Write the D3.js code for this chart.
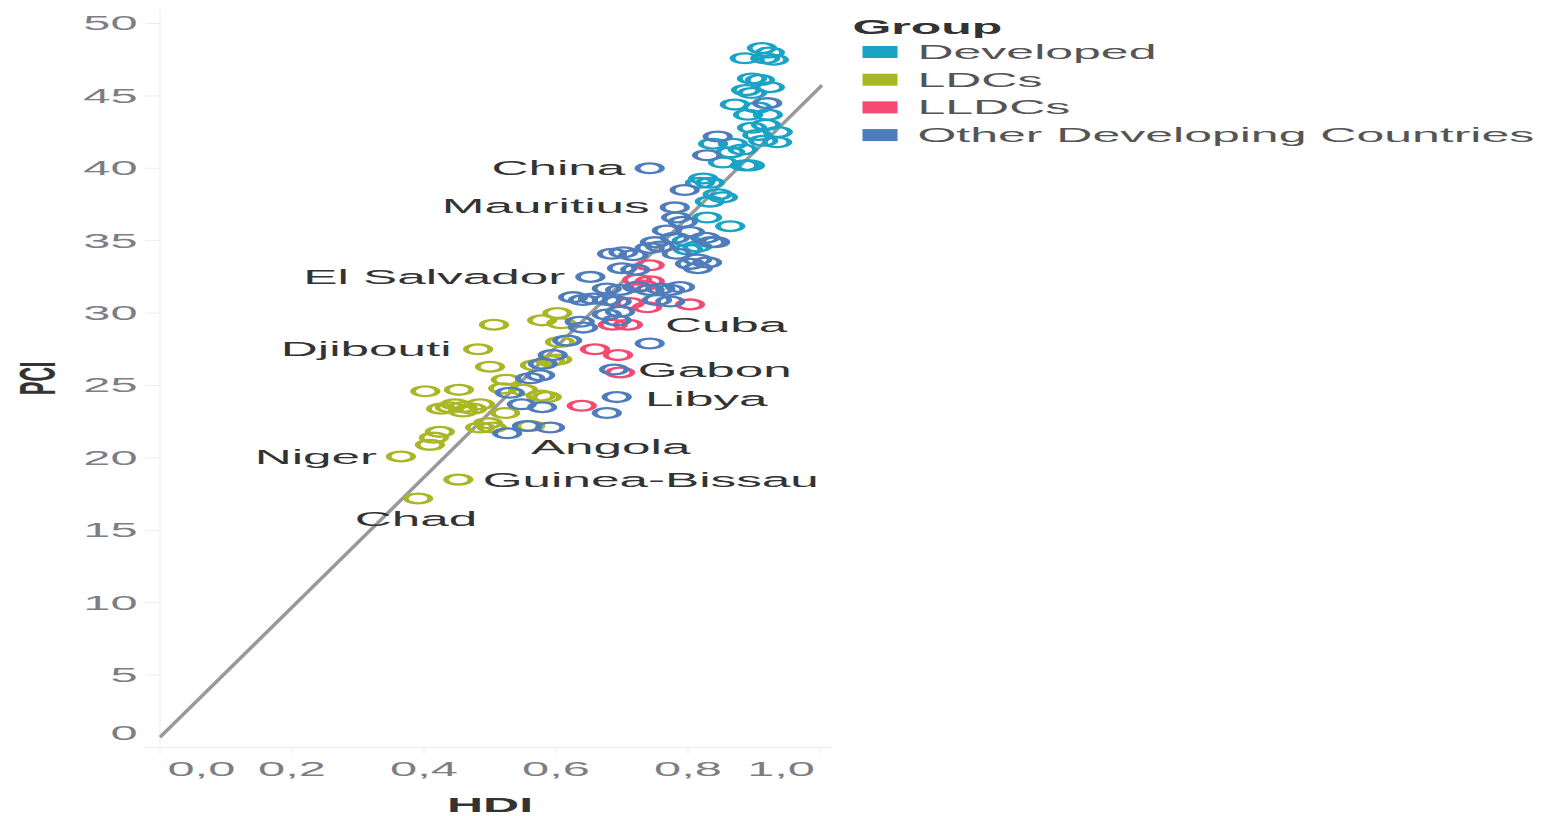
<!DOCTYPE html>
<html>
<head>
<meta charset="utf-8">
<script src="https://cdn.jsdelivr.net/npm/d3@7"></script>
<style>
  html, body { margin: 0; padding: 0; background: #fff; }
  svg { display: block; }
  text { font-family: "Liberation Sans", Arial, sans-serif; }
</style>
</head>
<body>
<div id="chart"></div>
<script>
// groups + colours (Tableau hue circle)
const groups = ["Developed", "LDCs", "LLDCs", "Other Developing Countries"];
const groupColors = ["#1ba3c6", "#a9b726", "#f64971", "#4f7cba"];

// [HDI, PCI] per group
const developed = [
  [0.912, 48.3], [0.924, 48.0], [0.930, 47.5], [0.886, 47.6], [0.917, 47.6],
  [0.897, 46.2], [0.909, 46.1], [0.924, 45.6], [0.897, 45.2], [0.888, 45.4],
  [0.871, 44.4], [0.905, 44.2], [0.921, 43.7], [0.891, 43.7], [0.918, 43.0],
  [0.897, 42.8], [0.936, 42.5], [0.905, 42.3], [0.914, 41.9], [0.935, 41.8],
  [0.868, 41.7], [0.838, 41.7], [0.883, 41.3], [0.864, 41.1], [0.853, 40.4],
  [0.894, 40.2], [0.886, 40.2], [0.823, 39.3], [0.833, 39.0], [0.818, 39.0],
  [0.845, 38.2], [0.853, 38.0], [0.833, 37.7], [0.864, 36.0], [0.829, 36.6],
  [0.798, 35.0], [0.814, 34.6], [0.800, 34.4]
];
const ldcs = [
  [0.506, 29.2], [0.579, 29.5], [0.602, 30.0], [0.608, 29.3], [0.482, 27.5],
  [0.500, 26.3], [0.568, 26.4], [0.591, 26.7], [0.602, 26.8], [0.524, 25.4],
  [0.520, 24.8], [0.550, 24.7], [0.577, 24.3], [0.586, 24.2], [0.402, 24.6],
  [0.453, 24.7], [0.439, 23.5], [0.458, 23.5], [0.473, 23.4], [0.426, 23.4],
  [0.485, 23.7], [0.523, 23.1], [0.485, 22.1], [0.503, 22.1], [0.561, 22.2],
  [0.424, 21.8], [0.415, 21.4], [0.409, 20.9], [0.365, 20.1], [0.452, 18.5],
  [0.391, 17.2], [0.459, 23.2], [0.606, 28.0], [0.497, 22.4], [0.447, 23.7]
];
const lldcs = [
  [0.742, 33.3], [0.723, 32.3], [0.742, 32.2], [0.732, 31.9], [0.712, 30.7],
  [0.738, 30.4], [0.803, 30.6], [0.686, 29.2], [0.709, 29.2], [0.659, 27.5],
  [0.694, 27.1], [0.697, 25.9], [0.639, 23.6]
];
const others = [
  [0.742, 40.0], [0.845, 42.2], [0.920, 44.5], [0.829, 40.9], [0.795, 38.5],
  [0.780, 37.3], [0.782, 36.6], [0.792, 36.3], [0.768, 35.7], [0.803, 35.6],
  [0.780, 35.2], [0.750, 34.9], [0.826, 35.2], [0.836, 34.9], [0.685, 34.1],
  [0.702, 34.2], [0.717, 34.0], [0.742, 34.5], [0.758, 34.6], [0.783, 34.1],
  [0.814, 33.7], [0.829, 33.5], [0.841, 34.9], [0.700, 33.1], [0.720, 33.0],
  [0.803, 33.4], [0.815, 33.1], [0.652, 32.5], [0.677, 31.7], [0.697, 31.6],
  [0.723, 31.8], [0.742, 31.6], [0.758, 31.7], [0.773, 31.6], [0.788, 31.8],
  [0.626, 31.1], [0.641, 30.9], [0.656, 31.0], [0.677, 30.9], [0.692, 30.8],
  [0.753, 30.9], [0.773, 30.8], [0.697, 30.1], [0.677, 29.9], [0.692, 29.5],
  [0.636, 29.4], [0.641, 29.0], [0.742, 27.9], [0.617, 28.1], [0.595, 27.1],
  [0.580, 26.5], [0.561, 25.5], [0.688, 26.1], [0.692, 24.2], [0.677, 23.1],
  [0.576, 25.7], [0.530, 24.5], [0.548, 23.7], [0.579, 23.5], [0.556, 22.2],
  [0.526, 21.7], [0.591, 22.1]
];
const seriesData = [developed, ldcs, lldcs, others];

// country labels: [name, HDI, PCI, anchor] (text position)
const labels = [
  ["China", 0.705, 40.0, "end"],
  ["Mauritius", 0.742, 37.4, "end"],
  ["El Salvador", 0.614, 32.5, "end"],
  ["Djibouti", 0.442, 27.5, "end"],
  ["Niger", 0.329, 20.1, "end"],
  ["Guinea-Bissau", 0.489, 18.5, "start"],
  ["Chad", 0.388, 15.8, "middle"],
  ["Angola", 0.562, 20.75, "start"],
  ["Cuba", 0.765, 29.2, "start"],
  ["Gabon", 0.724, 26.1, "start"],
  ["Libya", 0.735, 24.1, "start"]
];

// trend line PCI = a + b*HDI
const trendIntercept = 0.7;
const trendSlope = 44.9;
const trendRange = [0, 1.003];

const xTicks = [0, 0.2, 0.4, 0.6, 0.8, 1.0];
const yTicks = [0, 5, 10, 15, 20, 25, 30, 35, 40, 45, 50];

// the picture is stretched horizontally, draw in narrow units and let the viewBox stretch it
const W = 1544, H = 816, stretch = 2.5;
const VW = W / stretch;

const svg = d3.select("#chart").append("svg")
    .attr("width", W)
    .attr("height", H)
    .attr("viewBox", `0 0 ${VW} ${H}`)
    .attr("preserveAspectRatio", "none");

const x = d3.scaleLinear().domain([0, 1]).range([64, 328]);
const y = d3.scaleLinear().domain([0, 50]).range([747.5, 23.5]);
const xEnd = 333, yTop = y(51);

const locale = d3.formatLocale({decimal: ",", thousands: ".", grouping: [3], currency: ["", ""]});
const fmt = locale.format(".1f");

// axes lines
svg.append("line")
    .attr("x1", x(0)).attr("x2", x(0))
    .attr("y1", yTop).attr("y2", y(0))
    .attr("stroke", "#ebebeb").attr("stroke-width", 1)
    .attr("vector-effect", "non-scaling-stroke");
svg.append("line")
    .attr("x1", x(0) - 6).attr("x2", xEnd)
    .attr("y1", y(0)).attr("y2", y(0))
    .attr("stroke", "#ebebeb").attr("stroke-width", 1)
    .attr("vector-effect", "non-scaling-stroke");

// y ticks
const yt = svg.append("g");
yt.selectAll("line").data(yTicks).enter().append("line")
    .attr("x1", x(0) - 6).attr("x2", x(0))
    .attr("y1", d => y(d)).attr("y2", d => y(d))
    .attr("stroke", "#ebebeb")
    .attr("vector-effect", "non-scaling-stroke");
yt.selectAll("text").data(yTicks).enter().append("text")
    .attr("x", 55)
    .attr("y", d => Math.min(y(d), 733))
    .attr("dy", "0.35em")
    .attr("text-anchor", "end")
    .attr("font-size", 19.5)
    .attr("fill", "#7d7d86")
    .text(d => d);

// x ticks
const xt = svg.append("g");
xt.selectAll("line").data(xTicks).enter().append("line")
    .attr("x1", d => x(d)).attr("x2", d => x(d))
    .attr("y1", y(0)).attr("y2", y(0) + 6)
    .attr("stroke", "#ebebeb")
    .attr("vector-effect", "non-scaling-stroke");
xt.selectAll("text").data(xTicks).enter().append("text")
    .attr("x", (d, i) => i === 0 ? x(d) + 3 : i === xTicks.length - 1 ? x(d) - 2 : x(d))
    .attr("y", 776)
    .attr("text-anchor", (d, i) => i === 0 ? "start" : i === xTicks.length - 1 ? "end" : "middle")
    .attr("font-size", 19.5)
    .attr("fill", "#7d7d86")
    .text(d => fmt(d));

// axis titles
svg.append("text")
    .attr("x", 196)
    .attr("y", 812)
    .attr("text-anchor", "middle")
    .attr("font-size", 20)
    .attr("font-weight", "bold")
    .attr("fill", "#333")
    .text("HDI");
svg.append("text")
    .attr("transform", `translate(22, ${(yTop + y(0)) / 2}) rotate(-90)`)
    .attr("text-anchor", "middle")
    .attr("font-size", 20)
    .attr("font-weight", "bold")
    .attr("fill", "#333")
    .text("PCI");

// trend line
svg.append("line")
    .attr("x1", x(trendRange[0]))
    .attr("y1", y(trendIntercept + trendSlope * trendRange[0]))
    .attr("x2", x(trendRange[1]))
    .attr("y2", y(trendIntercept + trendSlope * trendRange[1]))
    .attr("stroke", "#999")
    .attr("stroke-width", 3.5)
    .attr("vector-effect", "non-scaling-stroke");

// points
const pts = svg.append("g");
seriesData.forEach((series, gi) => {
    pts.append("g")
        .selectAll("circle")
        .data(series)
        .enter().append("circle")
        .attr("cx", d => x(d[0]))
        .attr("cy", d => y(d[1]))
        .attr("r", 4.9)
        .attr("fill", "none")
        .attr("stroke", groupColors[gi])
        .attr("stroke-width", 2.3);
});

// country labels
svg.append("g")
    .selectAll("text")
    .data(labels)
    .enter().append("text")
    .attr("x", d => x(d[1]))
    .attr("y", d => y(d[2]))
    .attr("dy", "0.35em")
    .attr("text-anchor", d => d[3])
    .attr("font-size", 20.5)
    .attr("fill", "#333")
    .text(d => d[0]);

// legend
const legend = svg.append("g");
legend.append("text")
    .attr("x", 341)
    .attr("y", 34)
    .attr("font-size", 20)
    .attr("font-weight", "bold")
    .attr("fill", "#333")
    .text("Group");
const rows = legend.selectAll("g.row").data(groups).enter().append("g")
    .attr("class", "row")
    .attr("transform", (d, i) => `translate(0, ${52 + i * 27.7})`);
rows.append("rect")
    .attr("x", 345).attr("y", -6)
    .attr("width", 14).attr("height", 12)
    .attr("fill", (d, i) => groupColors[i]);
rows.append("text")
    .attr("x", 367)
    .attr("dy", "0.35em")
    .attr("font-size", 20)
    .attr("fill", "#555")
    .text(d => d);
</script>
</body>
</html>
